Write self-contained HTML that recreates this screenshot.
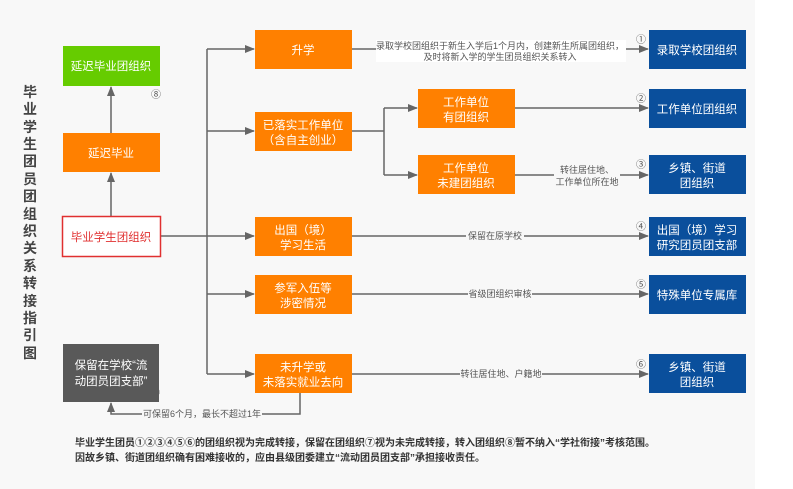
<!DOCTYPE html>
<html><head><meta charset="utf-8"><style>
body{margin:0;background:#fff}
svg{display:block;font-family:"Liberation Sans","Noto Sans CJK SC",sans-serif}
</style></head><body>
<svg width="793" height="489" viewBox="0 0 793 489" xmlns="http://www.w3.org/2000/svg">
<defs><marker id="a" markerWidth="10" markerHeight="8" refX="9" refY="4" orient="auto" markerUnits="userSpaceOnUse"><path d="M0,0 L10,4 L0,8 z" fill="#666"/></marker></defs>
<rect x="0" y="0" width="755" height="489" fill="#f8f8f8"/>
<g fill="#444" font-size="14" font-weight="bold" text-anchor="middle">
<text x="30" y="97">毕</text><text x="30" y="114">业</text><text x="30" y="132">学</text><text x="30" y="149">生</text><text x="30" y="166">团</text><text x="30" y="184">员</text><text x="30" y="201">团</text><text x="30" y="219">组</text><text x="30" y="236">织</text><text x="30" y="253">关</text><text x="30" y="271">系</text><text x="30" y="288">转</text><text x="30" y="306">接</text><text x="30" y="323">指</text><text x="30" y="340">引</text><text x="30" y="358">图</text>
</g>
<g stroke="#666" stroke-width="1.5" fill="none">
<line x1="111" y1="216" x2="111" y2="173" marker-end="url(#a)"/>
<line x1="111" y1="133" x2="111" y2="87" marker-end="url(#a)"/>
<line x1="161" y1="236" x2="254" y2="236" marker-end="url(#a)"/>
<line x1="207" y1="49" x2="207" y2="374"/>
<line x1="207" y1="49" x2="254" y2="49" marker-end="url(#a)"/>
<line x1="207" y1="131" x2="254" y2="131" marker-end="url(#a)"/>
<line x1="207" y1="294" x2="254" y2="294" marker-end="url(#a)"/>
<line x1="207" y1="374" x2="254" y2="374" marker-end="url(#a)"/>
<line x1="352" y1="131" x2="384" y2="131"/>
<line x1="384" y1="108" x2="384" y2="175"/>
<line x1="384" y1="108" x2="417" y2="108" marker-end="url(#a)"/>
<line x1="384" y1="175" x2="417" y2="175" marker-end="url(#a)"/>
<line x1="352" y1="49" x2="648" y2="49" marker-end="url(#a)"/>
<line x1="515" y1="108" x2="648" y2="108" marker-end="url(#a)"/>
<line x1="515" y1="175" x2="648" y2="175" marker-end="url(#a)"/>
<line x1="352" y1="236" x2="648" y2="236" marker-end="url(#a)"/>
<line x1="352" y1="294" x2="648" y2="294" marker-end="url(#a)"/>
<line x1="352" y1="374" x2="648" y2="374" marker-end="url(#a)"/>
<polyline points="300,393 300,414 111,414 111,403" marker-end="url(#a)"/>
</g>
<g font-size="9" fill="#555" text-anchor="middle">
<rect x="376" y="40" width="250" height="22" fill="#fff"/>
<text x="500" y="49">录取学校团组织于新生入学后1个月内，创建新生所属团组织，</text>
<text x="500" y="60">及时将新入学的学生团员组织关系转入</text>
<rect x="554" y="164" width="66" height="22" fill="#f8f8f8"/>
<text x="587" y="173">转往居住地、</text><text x="587" y="185">工作单位所在地</text>
<rect x="466" y="231" width="58" height="10" fill="#f8f8f8"/><text x="495" y="239">保留在原学校</text>
<rect x="468" y="289" width="64" height="10" fill="#f8f8f8"/><text x="500" y="297">省级团组织审核</text>
<rect x="460" y="369" width="82" height="10" fill="#f8f8f8"/><text x="501" y="377">转往居住地、户籍地</text>
<rect x="142" y="409" width="120" height="10" fill="#f8f8f8"/><text x="202" y="417">可保留6个月，最长不超过1年</text>
</g>
<g font-size="10" fill="#555" text-anchor="middle">
<text x="641" y="43">①</text><text x="641" y="102">②</text><text x="641" y="168">③</text><text x="641" y="230">④</text><text x="641" y="288">⑤</text><text x="641" y="368">⑥</text><text x="156" y="98">⑧</text><text x="155" y="396">⑦</text>
</g>
<rect x="63" y="46" width="97" height="40" fill="#66cc00"/>
<rect x="63" y="133" width="97" height="39" fill="#ff8000"/>
<rect x="62.5" y="216.5" width="98" height="40" fill="#fff" stroke="#e03030" stroke-width="1.5"/>
<rect x="63" y="344" width="96" height="58" fill="#595959"/>
<g fill="#ff8000">
<rect x="255" y="30" width="97" height="39"/><rect x="255" y="112" width="97" height="39"/><rect x="255" y="217" width="97" height="39"/><rect x="255" y="275" width="97" height="39"/><rect x="255" y="354" width="97" height="39"/>
<rect x="418" y="89" width="97" height="39"/><rect x="418" y="155" width="97" height="39"/>
</g>
<g fill="#0a4f9c">
<rect x="649" y="30" width="97" height="39"/><rect x="649" y="89" width="97" height="39"/><rect x="649" y="155" width="97" height="39"/><rect x="649" y="217" width="97" height="39"/><rect x="649" y="275" width="97" height="39"/><rect x="649" y="354" width="97" height="39"/>
</g>
<g font-size="11.5" fill="#fff" text-anchor="middle">
<text x="111" y="70">延迟毕业团组织</text>
<text x="111" y="157">延迟毕业</text>
<text x="111" y="241" fill="#e03030">毕业学生团组织</text>
<text x="111" y="369">保留在学校“流</text><text x="111" y="385">动团员团支部”</text>
<text x="303" y="54">升学</text>
<text x="303" y="129">已落实工作单位</text><text x="303" y="144">（含自主创业）</text>
<text x="303" y="234">出国（境）</text><text x="303" y="249">学习生活</text>
<text x="303" y="292">参军入伍等</text><text x="303" y="307">涉密情况</text>
<text x="303" y="371">未升学或</text><text x="303" y="386">未落实就业去向</text>
<text x="466" y="106">工作单位</text><text x="466" y="121">有团组织</text>
<text x="466" y="172">工作单位</text><text x="466" y="187">未建团组织</text>
<text x="697" y="54">录取学校团组织</text>
<text x="697" y="113">工作单位团组织</text>
<text x="697" y="172">乡镇、街道</text><text x="697" y="187">团组织</text>
<text x="697" y="234">出国（境）学习</text><text x="697" y="249">研究团员团支部</text>
<text x="697" y="299">特殊单位专属库</text>
<text x="697" y="371">乡镇、街道</text><text x="697" y="386">团组织</text>
</g>
<g font-size="10" font-weight="bold" fill="#333">
<text x="75" y="446">毕业学生团员①②③④⑤⑥的团组织视为完成转接，保留在团组织⑦视为未完成转接，转入团组织⑧暂不纳入“学社衔接”考核范围。</text>
<text x="75" y="461">因故乡镇、街道团组织确有困难接收的，应由县级团委建立“流动团员团支部”承担接收责任。</text>
</g>
</svg>
</body></html>
